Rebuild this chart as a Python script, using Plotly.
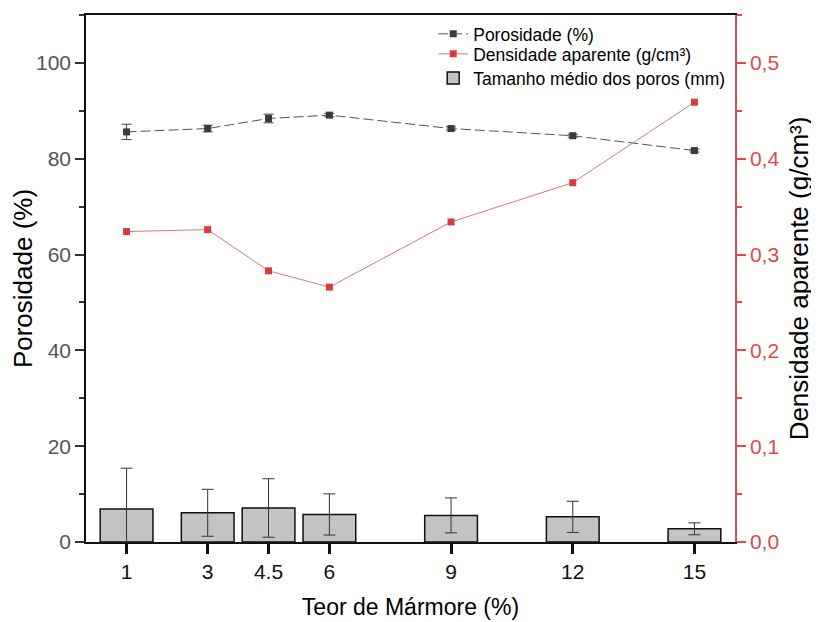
import plotly.graph_objects as go

teor = [1, 3, 4.5, 6, 9, 12, 15]
tick_labels = ["1", "3", "4.5", "6", "9", "12", "15"]

porosidade = [85.6, 86.3, 88.4, 89.1, 86.3, 84.8, 81.7]
porosidade_err = [1.6, 0.7, 0.9, 0.35, 0.35, 0.3, 0.3]

densidade = [0.324, 0.326, 0.283, 0.266, 0.334, 0.375, 0.459]

tamanho = [6.9, 6.1, 7.1, 5.75, 5.55, 5.25, 2.75]
tamanho_err = [8.5, 4.9, 6.1, 4.3, 3.65, 3.25, 1.25]

FONT = "Liberation Sans, Arial, sans-serif"
RED = "#dc4a4e"

fig = go.Figure()

fig.add_trace(go.Scatter(
    x=teor, y=porosidade, name="Porosidade (%)", mode="lines+markers",
    line=dict(color="#555555", width=1, dash="10px,4px"),
    marker=dict(symbol="square", size=7, color="#3a3a3a"),
    error_y=dict(type="data", array=porosidade_err, color="#444444", thickness=1, width=5),
    yaxis="y", legend="legend",
))

fig.add_trace(go.Scatter(
    x=teor, y=densidade, name="Densidade aparente (g/cm³)", mode="lines+markers",
    line=dict(color="#d47a7a", width=1),
    marker=dict(symbol="square", size=7, color="#d93a3d"),
    yaxis="y2", legend="legend2",
))

fig.add_trace(go.Bar(
    x=teor, y=tamanho, name="Tamanho médio dos poros (mm)", width=1.3,
    marker=dict(color="#c3c3c3", line=dict(color="#111111", width=1.5)),
    error_y=dict(type="data", array=tamanho_err, color="#333333", thickness=1, width=6),
    yaxis="y", legend="legend3",
))

leg_common = dict(x=0.535, xanchor="left", yanchor="middle",
                  bgcolor="rgba(0,0,0,0)", font=dict(size=17.5, family=FONT))

fig.update_layout(
    width=811, height=614,
    margin=dict(l=78, r=84, t=7, b=80),
    paper_bgcolor="white", plot_bgcolor="white",
    font=dict(family=FONT, color="black"),
    separators=",.",
    showlegend=True,
    legend=dict(y=0.964, **leg_common),
    legend2=dict(y=0.926, **leg_common),
    legend3=dict(y=0.880, **leg_common),
    xaxis=dict(
        range=[0, 16], tickmode="array", tickvals=teor, ticktext=tick_labels,
        ticks="outside", ticklen=10, tickwidth=2.5, tickcolor="#111111",
        showline=True, linecolor="#111111", linewidth=1.5, mirror=True,
        showgrid=False, zeroline=False, automargin=False,
        tickfont=dict(size=21, color="#111111"),
        title=dict(text="Teor de Mármore (%)", font=dict(size=23), standoff=17),
    ),
    yaxis=dict(
        range=[0, 110], tick0=0, dtick=20,
        ticks="outside", ticklen=9, tickwidth=1.5, tickcolor="#333333",
        minor=dict(dtick=10, ticks="outside", ticklen=5, tickcolor="#333333"),
        showline=True, linecolor="#111111", linewidth=1.5,
        showgrid=False, zeroline=False, automargin=False,
        tickfont=dict(size=21, color="#555555"),
        title=dict(text="Porosidade (%)", font=dict(size=26), standoff=3),
    ),
    yaxis2=dict(
        overlaying="y", side="right", range=[0, 0.55], tick0=0, dtick=0.1,
        tickformat=".1f",
        ticks="outside", ticklen=9, tickwidth=1.5, tickcolor=RED,
        minor=dict(dtick=0.05, ticks="outside", ticklen=5, tickcolor=RED),
        showline=True, linecolor=RED, linewidth=1.5,
        showgrid=False, zeroline=False, automargin=False,
        tickfont=dict(size=21, color=RED),
        title=dict(text="Densidade aparente (g/cm³)", font=dict(size=26, color="black"), standoff=11),
    ),
)

fig.write_html("out.html")
